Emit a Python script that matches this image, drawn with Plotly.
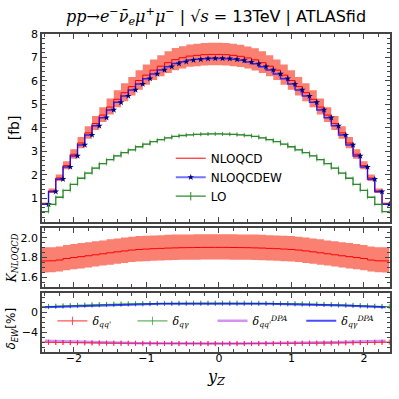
import plotly.graph_objects as go

# rapidity bins, width 0.1 (edges)
yz_edges = [round(-2.45 + 0.1 * k, 2) for k in range(49)]

nloqcd = [0.77, 1.32, 1.87, 2.40, 2.88, 3.36, 3.79, 4.19, 4.55, 4.89, 5.22, 5.50,
          5.76, 6.02, 6.25, 6.46, 6.63, 6.78, 6.91, 6.99, 7.06, 7.09, 7.12, 7.13,
          7.13, 7.12, 7.09, 7.05, 6.98, 6.90, 6.78, 6.63, 6.46, 6.25, 6.02, 5.76,
          5.50, 5.22, 4.89, 4.55, 4.19, 3.79, 3.36, 2.88, 2.40, 1.87, 1.32, 0.77]
nloqcdew = [0.75, 1.29, 1.82, 2.34, 2.81, 3.28, 3.70, 4.09, 4.44, 4.77, 5.09, 5.36,
            5.62, 5.87, 6.10, 6.30, 6.47, 6.61, 6.74, 6.82, 6.89, 6.92, 6.95, 6.96,
            6.96, 6.95, 6.92, 6.88, 6.81, 6.73, 6.61, 6.47, 6.30, 6.10, 5.87, 5.62,
            5.36, 5.09, 4.77, 4.44, 4.09, 3.70, 3.28, 2.81, 2.34, 1.82, 1.29, 0.75]
lo = [0.44, 0.75, 1.05, 1.34, 1.60, 1.86, 2.08, 2.29, 2.48, 2.65, 2.81, 2.95,
      3.07, 3.20, 3.31, 3.42, 3.50, 3.58, 3.64, 3.68, 3.71, 3.73, 3.74, 3.75,
      3.75, 3.74, 3.73, 3.71, 3.68, 3.64, 3.58, 3.50, 3.42, 3.31, 3.20, 3.07,
      2.95, 2.81, 2.65, 2.48, 2.29, 2.08, 1.86, 1.60, 1.34, 1.05, 0.75, 0.44]
# scale uncertainty of NLOQCD in percent
scale_up = [7.8, 7.8, 7.7, 7.7, 7.6, 7.6, 7.5, 7.5, 7.4, 7.4, 7.3, 7.3,
            7.2, 7.2, 7.2, 7.1, 7.1, 7.1, 7.1, 7.0, 7.0, 7.0, 7.0, 7.0,
            7.0, 7.0, 7.0, 7.0, 7.0, 7.1, 7.1, 7.1, 7.1, 7.2, 7.2, 7.2,
            7.3, 7.3, 7.4, 7.4, 7.5, 7.5, 7.6, 7.6, 7.7, 7.7, 7.8, 7.8]
scale_dn = [6.6, 6.6, 6.6, 6.6, 6.6, 6.6, 6.5, 6.5, 6.5, 6.5, 6.5, 6.5,
            6.5, 6.5, 6.5, 6.5, 6.5, 6.5, 6.5, 6.5, 6.5, 6.5, 6.5, 6.5,
            6.5, 6.5, 6.5, 6.5, 6.5, 6.5, 6.5, 6.5, 6.5, 6.5, 6.5, 6.5,
            6.5, 6.5, 6.5, 6.5, 6.5, 6.5, 6.6, 6.6, 6.6, 6.6, 6.6, 6.6]
k_nloqcd = [1.766, 1.767, 1.775, 1.790, 1.800, 1.809, 1.818, 1.828, 1.838, 1.848, 1.858, 1.867,
            1.876, 1.882, 1.886, 1.890, 1.893, 1.896, 1.898, 1.900, 1.901, 1.902, 1.903, 1.903,
            1.903, 1.903, 1.902, 1.901, 1.900, 1.898, 1.896, 1.893, 1.890, 1.886, 1.882, 1.876,
            1.867, 1.858, 1.848, 1.838, 1.828, 1.818, 1.809, 1.800, 1.790, 1.775, 1.767, 1.766]
d_qq = [-6.02, -6.04, -6.06, -6.08, -6.10, -6.12, -6.14, -6.16, -6.18, -6.20, -6.21, -6.22,
        -6.23, -6.24, -6.25, -6.26, -6.27, -6.27, -6.28, -6.28, -6.29, -6.29, -6.30, -6.30,
        -6.30, -6.30, -6.29, -6.29, -6.28, -6.28, -6.27, -6.27, -6.26, -6.25, -6.24, -6.23,
        -6.22, -6.21, -6.20, -6.18, -6.16, -6.14, -6.12, -6.10, -6.08, -6.06, -6.04, -6.02]
d_qq_dpa = [-5.70, -5.75, -5.80, -5.85, -5.90, -5.94, -5.98, -6.02, -6.06, -6.09, -6.12, -6.15,
            -6.18, -6.20, -6.22, -6.24, -6.26, -6.27, -6.28, -6.29, -6.30, -6.30, -6.31, -6.31,
            -6.31, -6.31, -6.30, -6.30, -6.29, -6.28, -6.27, -6.26, -6.24, -6.22, -6.20, -6.18,
            -6.15, -6.12, -6.09, -6.06, -6.02, -5.98, -5.94, -5.90, -5.85, -5.80, -5.75, -5.70]
d_qg = [1.20, 1.25, 1.30, 1.36, 1.42, 1.48, 1.53, 1.58, 1.62, 1.66, 1.70, 1.73,
        1.76, 1.78, 1.80, 1.82, 1.84, 1.85, 1.86, 1.87, 1.88, 1.88, 1.89, 1.89,
        1.89, 1.89, 1.88, 1.88, 1.87, 1.86, 1.85, 1.84, 1.82, 1.80, 1.78, 1.76,
        1.73, 1.70, 1.66, 1.62, 1.58, 1.53, 1.48, 1.42, 1.36, 1.30, 1.25, 1.20]
d_qg_dpa = [1.10, 1.15, 1.21, 1.27, 1.33, 1.39, 1.44, 1.49, 1.54, 1.58, 1.62, 1.65,
            1.68, 1.71, 1.73, 1.75, 1.77, 1.78, 1.79, 1.80, 1.80, 1.81, 1.81, 1.81,
            1.81, 1.81, 1.81, 1.80, 1.80, 1.79, 1.78, 1.77, 1.75, 1.73, 1.71, 1.68,
            1.65, 1.62, 1.58, 1.54, 1.49, 1.44, 1.39, 1.33, 1.27, 1.21, 1.15, 1.10]

x_right = yz_edges[1:]
x_mid = [round(a + 0.05, 3) for a in yz_edges[:-1]]
half_w = [0.05] * len(x_mid)


def step(v):
    # matplotlib steps-pre look: value v[i] drawn over bin i, ending at its right edge
    return [v[0]] + list(v)


SALMON = "rgb(250,128,114)"
fig = go.Figure()

# --- main panel ---
band_hi = [v * (1 + u / 100) for v, u in zip(nloqcd, scale_up)]
band_lo = [v * (1 - d / 100) for v, d in zip(nloqcd, scale_dn)]
fig.add_trace(go.Scatter(x=yz_edges, y=step(band_lo), line_shape="vh", mode="lines",
                         line=dict(width=0), showlegend=False, hoverinfo="skip"))
fig.add_trace(go.Scatter(x=yz_edges, y=step(band_hi), line_shape="vh", mode="lines",
                         line=dict(width=0), fill="tonexty", fillcolor=SALMON,
                         showlegend=False, hoverinfo="skip"))
fig.add_trace(go.Scatter(x=yz_edges, y=step(nloqcd), line_shape="vh", mode="lines",
                         line=dict(color="red", width=1), name="NLOQCD", legend="legend"))
fig.add_trace(go.Scatter(x=yz_edges, y=step(nloqcdew), line_shape="vh", mode="lines",
                         line=dict(color="rgba(0,0,255,0.75)", width=1.5), showlegend=False))
fig.add_trace(go.Scatter(x=x_right, y=nloqcdew, mode="markers",
                         marker=dict(symbol="star", size=5, color="#000080"), showlegend=False))
fig.add_trace(go.Scatter(x=[None], y=[None], mode="lines+markers", name="NLOQCDEW",
                         line=dict(color="rgba(0,0,255,0.55)", width=2),
                         marker=dict(symbol="star", size=5, color="#000080"), legend="legend"))
fig.add_trace(go.Scatter(x=yz_edges, y=step(lo), line_shape="vh", mode="lines",
                         line=dict(color="#2e8b2e", width=1.3), showlegend=False))
fig.add_trace(go.Scatter(x=x_mid, y=lo, mode="markers", marker=dict(size=1, opacity=0),
                         error_x=dict(type="data", array=half_w, color="rgba(46,139,46,0.6)",
                                      thickness=1, width=2),
                         showlegend=False, hoverinfo="skip"))
fig.add_trace(go.Scatter(x=[None], y=[None], mode="lines+markers", name="LO",
                         line=dict(color="#2e8b2e", width=1.3),
                         marker=dict(symbol="line-ns", size=6, line=dict(color="#2e8b2e", width=1)),
                         legend="legend"))

# --- K-factor panel ---
k_hi = [k * (1 + u / 100) for k, u in zip(k_nloqcd, scale_up)]
k_lo = [k * (1 - d / 100) for k, d in zip(k_nloqcd, scale_dn)]
fig.add_trace(go.Scatter(x=yz_edges, y=step(k_lo), line_shape="vh", mode="lines",
                         line=dict(width=0), showlegend=False, xaxis="x2", yaxis="y2"))
fig.add_trace(go.Scatter(x=yz_edges, y=step(k_hi), line_shape="vh", mode="lines",
                         line=dict(width=0), fill="tonexty", fillcolor=SALMON,
                         showlegend=False, xaxis="x2", yaxis="y2"))
fig.add_trace(go.Scatter(x=yz_edges, y=step(k_nloqcd), line_shape="vh", mode="lines",
                         line=dict(color="red", width=1), showlegend=False, xaxis="x2", yaxis="y2"))


# --- EW correction panel ---
def ew_bars(vals, col, name, leg):
    fig.add_trace(go.Scatter(x=yz_edges, y=step(vals), line_shape="vh", mode="lines",
                             line=dict(color=col, width=1), showlegend=False,
                             xaxis="x3", yaxis="y3"))
    fig.add_trace(go.Scatter(x=x_mid, y=vals, mode="markers", marker=dict(size=1, opacity=0),
                             error_x=dict(type="data", array=half_w, color=col, thickness=1, width=2.5),
                             showlegend=False, xaxis="x3", yaxis="y3"))
    fig.add_trace(go.Scatter(x=[None], y=[None], mode="lines+markers", name=name,
                             line=dict(color=col, width=1.3),
                             marker=dict(symbol="line-ns", size=6, line=dict(color=col, width=1)),
                             legend=leg, xaxis="x3", yaxis="y3"))


ew_bars(d_qq, "rgba(255,40,40,0.8)", "<i>δ</i><sub><i>qq'</i></sub>", "legend2")
ew_bars(d_qg, "rgba(40,150,40,0.7)", "<i>δ</i><sub><i>qγ</i></sub>", "legend3")
fig.add_trace(go.Scatter(x=x_mid, y=d_qq_dpa, mode="lines",
                         name="<i>δ</i><sub><i>qq'</i></sub><sup><i>DPA</i></sup>",
                         line=dict(color="rgba(170,40,230,0.5)", width=2.5),
                         legend="legend4", xaxis="x3", yaxis="y3"))
fig.add_trace(go.Scatter(x=x_mid, y=d_qg_dpa, mode="lines",
                         name="<i>δ</i><sub><i>qγ</i></sub><sup><i>DPA</i></sup>",
                         line=dict(color="rgba(0,0,255,0.7)", width=2),
                         legend="legend5", xaxis="x3", yaxis="y3"))

FRAME = "#444"
ax_common = dict(showline=True, linecolor=FRAME, linewidth=1.5, mirror="allticks",
                 ticks="inside", ticklen=5, tickcolor=FRAME, showgrid=False, zeroline=False,
                 automargin=False,
                 tickfont=dict(size=11, color="black", family="DejaVu Sans"))
xr = [-2.44, 2.36]
minor_x = dict(ticks="inside", ticklen=3, dtick=0.2, tickcolor=FRAME, showgrid=False)
small_leg = dict(yanchor="middle", xanchor="left", y=0.098, bgcolor="rgba(0,0,0,0)",
                 font=dict(size=11, family="DejaVu Serif"), itemwidth=30)

fig.update_layout(
    width=399, height=399,
    margin=dict(l=42, r=9, t=34, b=47),
    plot_bgcolor="white", paper_bgcolor="white",
    font=dict(family="DejaVu Sans", size=12, color="black"),
    xaxis=dict(ax_common, range=xr, domain=[0, 1], anchor="y", showticklabels=False,
               dtick=1, minor=minor_x),
    yaxis=dict(ax_common, range=[0, 8], domain=[0.409, 1], anchor="x",
               tickvals=[1, 2, 3, 4, 5, 6, 7, 8],
               minor=dict(ticks="inside", ticklen=3, dtick=0.2, tickcolor=FRAME, showgrid=False)),
    xaxis2=dict(ax_common, range=xr, domain=[0, 1], anchor="y2", showticklabels=False,
                dtick=1, minor=minor_x, matches="x"),
    yaxis2=dict(ax_common, range=[1.5, 2.1], domain=[0.204, 0.39], anchor="x2",
                tickvals=[1.6, 1.8, 2.0], ticktext=["1.6", "1.8", "2.0"],
                minor=dict(ticks="inside", ticklen=3, dtick=0.05, tickcolor=FRAME, showgrid=False)),
    xaxis3=dict(ax_common, range=xr, domain=[0, 1], anchor="y3", dtick=1,
                tickvals=[-2, -1, 0, 1, 2], ticktext=["−2", "−1", "0", "1", "2"],
                ticklabelstandoff=-5, minor=minor_x, matches="x"),
    yaxis3=dict(ax_common, range=[-8, 4], domain=[0, 0.186], anchor="x3",
                tickvals=[-8, -4, 0, 4], ticktext=["", "−4", "0", ""],
                minor=dict(ticks="inside", ticklen=3, dtick=1, tickcolor=FRAME, showgrid=False)),
    legend=dict(x=0.37, y=0.655, xanchor="left", yanchor="top", bgcolor="rgba(0,0,0,0)",
                font=dict(size=12), itemwidth=30, tracegroupgap=0, traceorder="normal"),
    legend2=dict(small_leg, x=0.03),
    legend3=dict(small_leg, x=0.26),
    legend4=dict(small_leg, x=0.49),
    legend5=dict(small_leg, x=0.745),
)

serif = "DejaVu Serif"
fig.add_annotation(text="<i>pp</i>→<i>e</i><sup>−</sup><i>ν̄</i><sub><i>e</i></sub><i>μ</i><sup>+</sup><i>μ</i><sup>−</sup>"
                        "<span style='font-family:DejaVu Sans'> | </span>√<i>s</i> ="
                        "<span style='font-family:DejaVu Sans'> 13TeV | ATLASfid</span>",
                   xref="paper", yref="paper", x=0.5, y=1.0, yanchor="bottom", yshift=4,
                   showarrow=False, font=dict(size=16, family=serif))
fig.add_annotation(text="[fb]", xref="paper", yref="paper", x=-0.08, y=0.704, textangle=-90,
                   xanchor="center", yanchor="middle", showarrow=False, font=dict(size=14))
fig.add_annotation(text="<i>K</i><sub><i>NLOQCD</i></sub>", xref="paper", yref="paper",
                   x=-0.085, y=0.296, textangle=-90, xanchor="center", yanchor="middle",
                   showarrow=False, font=dict(size=12, family=serif))
fig.add_annotation(text="<i>δ</i><sub><i>EW</i></sub>[%]", xref="paper", yref="paper",
                   x=-0.085, y=0.075, textangle=-90, xanchor="center", yanchor="middle",
                   showarrow=False, font=dict(size=12))
fig.add_annotation(text="<i>y</i><sub><i>Z</i></sub>", xref="paper", yref="paper",
                   x=0.5, y=-0.08, yanchor="middle", showarrow=False, font=dict(size=16, family=serif))

fig.write_html("out.html", config={"displayModeBar": False},
               post_script="document.body.style.margin='0';")
